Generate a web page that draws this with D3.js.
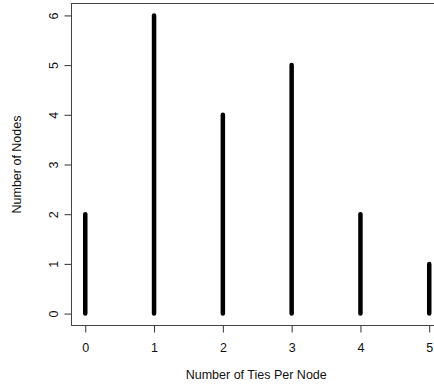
<!DOCTYPE html>
<html>
<head>
<meta charset="utf-8">
<script src="https://cdn.jsdelivr.net/npm/d3@7"></script>
<style>
  body { margin: 0; background: #fff; }
  svg { display: block; font-family: "Liberation Sans", Arial, sans-serif; }
</style>
</head>
<body>
<div id="chart"></div>
<script>
// degree distribution
var ties = [0, 1, 2, 3, 4, 5];
var nodeCounts = [2, 6, 4, 5, 2, 1];
var xTicks = [0, 1, 2, 3, 4, 5];
var yTicks = [0, 1, 2, 3, 4, 5, 6];

var width = 434, height = 388;
var box = { left: 71.5, top: 3.5, right: 443, bottom: 325.5 };

var x = d3.scaleLinear()
  .domain([-0.2, 5.2])
  .range([box.left, box.right]);

var y = d3.scaleLinear()
  .domain([-0.24, 6.24])
  .range([box.bottom, box.top]);

var svg = d3.select("#chart")
  .append("svg")
  .attr("width", width)
  .attr("height", height);

// frame
svg.append("rect")
  .attr("x", box.left)
  .attr("y", box.top)
  .attr("width", box.right - box.left)
  .attr("height", box.bottom - box.top)
  .attr("fill", "none")
  .attr("stroke", "#444")
  .attr("stroke-width", 1);

// x axis
var xAxis = svg.append("g")
  .attr("transform", "translate(0," + box.bottom + ")")
  .call(d3.axisBottom(x).tickValues(xTicks).tickSize(7).tickPadding(11).tickFormat(d3.format("d")));
xAxis.select(".domain").remove();
xAxis.selectAll("line").attr("stroke", "#333");
xAxis.selectAll("text")
  .attr("font-size", 12.5)
  .attr("font-family", "Liberation Sans, Arial, sans-serif")
  .attr("fill", "#111");

// y axis
var yAxis = svg.append("g")
  .attr("transform", "translate(" + box.left + ",0)")
  .call(d3.axisLeft(y).tickValues(yTicks).tickSize(7).tickFormat(d3.format("d")));
yAxis.select(".domain").remove();
yAxis.selectAll("line").attr("stroke", "#333");
yAxis.selectAll("text")
  .attr("font-size", 12.5)
  .attr("font-family", "Liberation Sans, Arial, sans-serif")
  .attr("fill", "#111")
  .attr("text-anchor", "middle")
  .attr("x", 0)
  .attr("dy", 0)
  .attr("transform", "translate(-18,0) rotate(-90)")
  .attr("dominant-baseline", "central");

// axis titles
svg.append("text")
  .attr("x", (box.left + box.right) / 2 - 1)
  .attr("y", 379)
  .attr("text-anchor", "middle")
  .attr("font-size", 12.5)
  .attr("fill", "#111")
  .text("Number of Ties Per Node");

svg.append("text")
  .attr("transform", "translate(21," + (box.top + box.bottom) / 2 + ") rotate(-90)")
  .attr("text-anchor", "middle")
  .attr("font-size", 12.5)
  .attr("fill", "#111")
  .text("Number of Nodes");

// vertical bars (type = "h")
svg.selectAll(".bar")
  .data(ties)
  .enter().append("line")
  .attr("class", "bar")
  .attr("x1", function (d) { return x(d); })
  .attr("x2", function (d) { return x(d); })
  .attr("y1", y(0))
  .attr("y2", function (d, i) { return y(nodeCounts[i]); })
  .attr("stroke", "#000")
  .attr("stroke-width", 4.5)
  .attr("stroke-linecap", "round");
</script>
</body>
</html>
